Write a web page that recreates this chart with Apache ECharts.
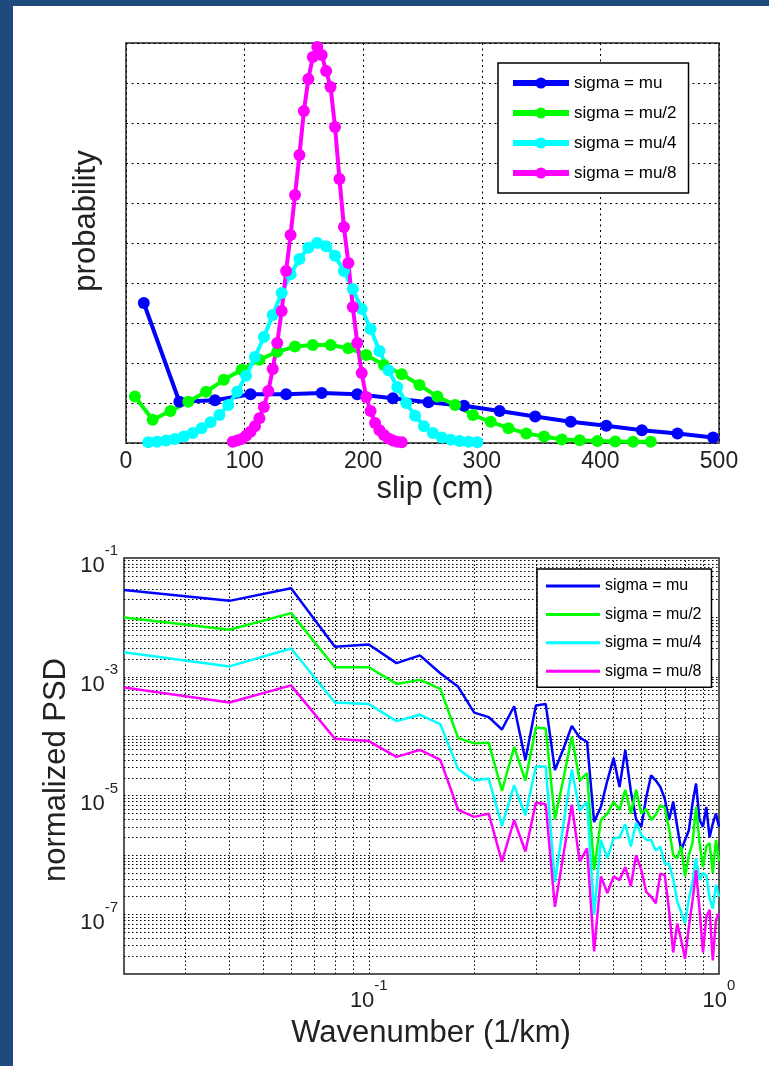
<!DOCTYPE html>
<html>
<head>
<meta charset="utf-8">
<script src="https://cdn.jsdelivr.net/npm/echarts@6/dist/echarts.min.js"></script>
<style>
  html, body { margin: 0; padding: 0; width: 769px; height: 1066px; overflow: hidden; background: #1f4a7c; }
  .panel { position: absolute; left: 13px; top: 6px; width: 756px; height: 1060px; background: #fff; }
  .chart { position: absolute; left: 0; top: 0; width: 769px; height: 1066px; }
</style>
</head>
<body>
<div class="panel"></div>
<div id="chart1" class="chart"></div>
<div id="chart2" class="chart"></div>
<script>
// ---- top panel: slip distributions ----
var slipMu = [15, 45, 75, 105, 135, 165, 195, 225, 255, 285, 315, 345, 375, 405, 435, 465, 495]
var probMu = [3.5, 1.03, 1.07, 1.22, 1.22, 1.25, 1.22, 1.12, 1.02, 0.93, 0.8, 0.66, 0.53, 0.43, 0.32, 0.24, 0.14]

var slipMu2 = [7.5, 22.5, 37.5, 52.5, 67.5, 82.5, 97.5, 112.5, 127.5, 142.5, 157.5, 172.5, 187.5, 202.5, 217.5,
  232.5, 247.5, 262.5, 277.5, 292.5, 307.5, 322.5, 337.5, 352.5, 367.5, 382.5, 397.5, 412.5, 427.5, 442.5]
var probMu2 = [1.16, 0.58, 0.8, 1.03, 1.28, 1.58, 1.83, 2.08, 2.28, 2.41, 2.45, 2.45, 2.37, 2.2, 1.95,
  1.72, 1.45, 1.16, 0.95, 0.7, 0.53, 0.37, 0.24, 0.16, 0.09, 0.07, 0.05, 0.04, 0.03, 0.03]

var slipMu4 = [18.75, 26.25, 33.75, 41.25, 48.75, 56.25, 63.75, 71.25, 78.75, 86.25, 93.75, 101.25, 108.75,
  116.25, 123.75, 131.25, 138.75, 146.25, 153.75, 161.25, 168.75, 176.25, 183.75, 191.25, 198.75, 206.25,
  213.75, 221.25, 228.75, 236.25, 243.75, 251.25, 258.75, 266.25, 273.75, 281.25, 288.75, 296.25]
var probMu4 = [0.02, 0.03, 0.06, 0.1, 0.16, 0.25, 0.37, 0.52, 0.7, 0.95, 1.28, 1.68, 2.15,
  2.65, 3.2, 3.75, 4.22, 4.6, 4.88, 5.0, 4.92, 4.68, 4.3, 3.85, 3.35, 2.85,
  2.3, 1.82, 1.4, 1.0, 0.68, 0.42, 0.25, 0.14, 0.08, 0.05, 0.03, 0.02]

var slipMu8 = [90, 93.75, 97.5, 101.25, 105, 108.75, 112.5, 116.25, 120, 123.75, 127.5, 131.25, 135,
  138.75, 142.5, 146.25, 150, 153.75, 157.5, 161.25, 165, 168.75, 172.5, 176.25, 180, 183.75, 187.5,
  191.25, 195, 198.75, 202.5, 206.25, 210, 213.75, 217.5, 221.25, 225, 228.75, 232.5]
var probMu8 = [0.03, 0.06, 0.1, 0.18, 0.28, 0.42, 0.62, 0.9, 1.3, 1.85, 2.5, 3.3, 4.3,
  5.2, 6.2, 7.2, 8.3, 9.1, 9.65, 9.9, 9.7, 9.3, 8.9, 7.9, 6.6, 5.4, 4.5,
  3.4, 2.5, 1.75, 1.15, 0.8, 0.5, 0.32, 0.2, 0.11, 0.06, 0.03, 0.02]

// ---- bottom panel: spectra ----
var waveNum = [0.02, 0.04, 0.06, 0.08, 0.1, 0.12, 0.14, 0.16, 0.18, 0.2, 0.22, 0.24, 0.26, 0.28, 0.3, 0.32, 0.34,
  0.36, 0.38, 0.4, 0.42, 0.44, 0.46, 0.48, 0.5, 0.52, 0.54, 0.56, 0.58, 0.6, 0.62, 0.64, 0.66, 0.68, 0.7,
  0.72, 0.74, 0.76, 0.78, 0.8, 0.82, 0.84, 0.86, 0.88, 0.9, 0.92, 0.94, 0.96, 0.98, 1.0]
var psdMu = [2.9e-2, 1.9e-2, 3.1e-2, 3.2e-3, 3.5e-3, 1.7e-3, 2.3e-3, 1.15e-3, 6.8e-4, 2.5e-4,
  2.1e-4, 1.3e-4, 3.2e-4, 4.0e-5, 3.3e-4, 3.5e-4, 2.7e-5, 6.3e-5, 1.5e-4, 9.5e-5,
  8.1e-5, 3.6e-6, 6.5e-6, 1.8e-5, 4.3e-5, 1.4e-5, 5.9e-5, 1.2e-5, 4.0e-6, 3.0e-6,
  9.5e-6, 2.2e-5, 1.8e-5, 1.4e-5, 8.9e-6, 3.9e-6, 7.9e-6, 3.0e-6, 1.2e-6, 1.8e-6,
  2.6e-6, 7.4e-6, 1.6e-5, 3.9e-6, 3.0e-6, 6.5e-6, 2.0e-6, 3.4e-6, 5.0e-6, 3.0e-6]
var psdMu2 = [1.0e-2, 6.2e-3, 1.18e-2, 1.45e-3, 1.45e-3, 7.6e-4, 8.9e-4, 6.3e-4, 9.3e-5, 7.6e-5,
  7.8e-5, 1.2e-5, 6.6e-5, 1.8e-5, 1.4e-4, 1.35e-4, 4.0e-6, 2.0e-5, 9.8e-5, 1.8e-5,
  2.4e-5, 5.6e-7, 3.9e-6, 5.0e-6, 7.9e-6, 5.8e-6, 1.26e-5, 5.0e-6, 1.26e-5, 5.0e-6,
  6.0e-6, 3.9e-6, 4.8e-6, 6.9e-6, 6.3e-6, 2.8e-6, 1.0e-6, 8.9e-7, 1.4e-6, 4.4e-7,
  1.0e-6, 1.6e-6, 6.5e-6, 1.6e-6, 6.3e-7, 1.4e-6, 1.6e-6, 5.0e-7, 1.8e-6, 7.9e-7]
var psdMu4 = [2.6e-3, 1.5e-3, 3.0e-3, 3.7e-4, 3.5e-4, 1.8e-4, 2.3e-4, 1.6e-4, 2.8e-5, 1.8e-5,
  1.95e-5, 3.1e-6, 1.5e-5, 4.7e-6, 3.1e-5, 3.1e-5, 3.5e-7, 3.5e-6, 2.75e-5, 5.6e-6,
  7.9e-6, 1.0e-7, 1.8e-6, 8.9e-7, 1.9e-6, 2.0e-6, 3.3e-6, 1.4e-6, 3.5e-6, 2.2e-6,
  1.8e-6, 1.8e-6, 1.2e-6, 1.4e-6, 7.1e-7, 7.2e-7, 4.0e-7, 1.66e-7, 1.1e-7, 7.1e-8,
  1.8e-7, 3.5e-7, 8.9e-7, 3.8e-7, 5.0e-7, 4.6e-7, 1.9e-7, 1.26e-7, 3.2e-7, 2.0e-7]
var psdMu8 = [6.6e-4, 3.7e-4, 7.2e-4, 9.1e-5, 8.3e-5, 4.5e-5, 5.9e-5, 4.0e-5, 5.8e-6, 4.4e-6,
  5.0e-6, 7.8e-7, 3.9e-6, 1.15e-6, 7.6e-6, 7.2e-6, 1.35e-7, 1.07e-6, 7.1e-6, 7.8e-7,
  1.3e-6, 2.4e-8, 4.4e-7, 2.3e-7, 4.4e-7, 3.8e-7, 6.3e-7, 3.0e-7, 1.0e-6, 5.6e-7,
  2.4e-7, 2.0e-7, 1.55e-7, 4.9e-7, 4.6e-7, 1.2e-7, 2.3e-8, 7.1e-8, 3.7e-8, 1.8e-8,
  6.2e-8, 1.7e-7, 5.6e-7, 1.2e-7, 2.3e-8, 9.1e-8, 1.2e-7, 1.7e-8, 8.1e-8, 1.05e-7]

var names = ['sigma = mu', 'sigma = mu/2', 'sigma = mu/4', 'sigma = mu/8']
var colors = ['#0000ff', '#00ff00', '#00ffff', '#ff00ff']
var FONT = "'Liberation Sans', Arial, sans-serif"

function pairs(xs, ys) {
  return xs.map(function (x, i) { return [x, ys[i]] })
}

// dotted matlab style grid lines
var dotted = { color: '#000', type: [2, 3.5], width: 1 }

function showChart1() {
  var xy = [[slipMu, probMu], [slipMu2, probMu2], [slipMu4, probMu4], [slipMu8, probMu8]]
  var option = {
    animation: false,
    textStyle: { fontFamily: FONT },
    grid: { left: 126, top: 43, width: 593, height: 400, show: true, borderColor: '#222', borderWidth: 1.5 },
    xAxis: {
      type: 'value', min: 0, max: 500, interval: 100,
      axisLine: { show: false },
      axisTick: { show: false },
      axisLabel: { fontSize: 23, color: '#222', margin: 7, fontFamily: FONT },
      splitLine: { show: true, lineStyle: dotted }
    },
    yAxis: {
      type: 'value', min: 0, max: 10, interval: 1,
      axisLine: { show: false },
      axisTick: { show: false },
      axisLabel: { show: false },
      splitLine: { show: true, lineStyle: dotted }
    },
    legend: {
      data: names, orient: 'vertical', left: 498, top: 63,
      padding: [11.5, 12, 11.5, 12], itemGap: 13, itemWidth: 56, itemHeight: 14,
      borderColor: '#000', borderWidth: 1.5, backgroundColor: '#fff',
      lineStyle: { width: 6 },
      textStyle: { fontSize: 17, color: '#000', fontFamily: FONT }
    },
    series: xy.map(function (d, i) {
      return {
        name: names[i], type: 'line', data: pairs(d[0], d[1]),
        symbol: 'circle', symbolSize: 12, showAllSymbol: true, z: 3,
        lineStyle: { width: 4, color: colors[i] },
        itemStyle: { color: colors[i] }
      }
    }),
    graphic: [
      { type: 'text', x: 86, y: 221, rotation: Math.PI / 2,
        style: { text: 'probability', font: '31px ' + FONT, fill: '#222', align: 'center', verticalAlign: 'middle' } },
      { type: 'text', x: 435, y: 489,
        style: { text: 'slip (cm)', font: '31px ' + FONT, fill: '#222', align: 'center', verticalAlign: 'middle' } }
    ]
  }
  var myChart = echarts.init(document.getElementById('chart1'))
  myChart.setOption(option)
}

function showChart2() {
  // minor + major log grid positions (axis decoration, not data)
  var yGrid = []
  for (var e = -8; e <= -2; e++) {
    for (var m = 1; m <= 9; m++) {
      if (e === -8 && m === 1) continue
      yGrid.push(Number(m + 'e' + e))
    }
  }
  var xGrid = []
  for (var k = 3; k <= 9; k++) xGrid.push(k / 100)
  for (var j = 1; j <= 9; j++) xGrid.push(j / 10)
  var gridLines = yGrid.map(function (v) { return { yAxis: v } })
    .concat(xGrid.map(function (v) { return { xAxis: v } }))

  var labelRich = {
    b: { fontSize: 22, color: '#222', padding: [16, 0, 0, 0], fontFamily: FONT },
    s: { fontSize: 15, color: '#222', padding: [0, 0, 14, 0], fontFamily: FONT }
  }
  var psd = [psdMu, psdMu2, psdMu4, psdMu8]
  var series = psd.map(function (ys, i) {
    return {
      name: names[i], type: 'line', data: pairs(waveNum, ys),
      symbol: 'none', z: 3,
      lineStyle: { width: 2.5, color: colors[i] },
      itemStyle: { color: colors[i] }
    }
  })
  series.unshift({
    name: 'grid', type: 'line', data: [], z: 1, silent: true,
    markLine: {
      silent: true, symbol: ['none', 'none'], animation: false,
      precision: 14, z: 1,
      label: { show: false },
      lineStyle: { color: '#000', type: [1.5, 2.5], width: 1 },
      emphasis: { disabled: true },
      data: gridLines
    }
  })

  var option = {
    animation: false,
    textStyle: { fontFamily: FONT },
    grid: { left: 124, top: 558, width: 595, height: 416, show: true, borderColor: '#222', borderWidth: 1.5 },
    xAxis: {
      type: 'log', logBase: 10, min: 0.02, max: 1,
      axisLine: { show: false }, axisTick: { show: false },
      splitLine: { show: false },
      axisLabel: {
        margin: 0, rich: labelRich,
        formatter: function (v) {
          var l = Math.log10(v)
          var e = Math.round(l)
          if (Math.abs(l - e) > 1e-6) return ''
          return '{b|10}{s|' + e + '}'
        }
      }
    },
    yAxis: {
      type: 'log', logBase: 10, min: 1e-8, max: 1e-1,
      axisLine: { show: false }, axisTick: { show: false },
      splitLine: { show: false },
      axisLabel: {
        margin: 6, rich: labelRich,
        formatter: function (v) {
          var e = Math.round(Math.log10(v))
          if (e % 2 === 0) return ''
          return '{b|10}{s|' + e + '}'
        }
      }
    },
    legend: {
      data: names.map(function (n) { return { name: n, icon: 'rect' } }),
      orient: 'vertical', left: 537, top: 569,
      padding: [9, 10, 8, 9], itemGap: 12.4, itemWidth: 54, itemHeight: 3,
      borderColor: '#000', borderWidth: 1.5, backgroundColor: '#fff',
      textStyle: { fontSize: 16, color: '#000', fontFamily: FONT }
    },
    series: series,
    graphic: [
      { type: 'text', x: 56, y: 770, rotation: Math.PI / 2,
        style: { text: 'normalized PSD', font: '31px ' + FONT, fill: '#222', align: 'center', verticalAlign: 'middle' } },
      { type: 'text', x: 431, y: 1033,
        style: { text: 'Wavenumber (1/km)', font: '31px ' + FONT, fill: '#222', align: 'center', verticalAlign: 'middle' } }
    ]
  }
  var myChart = echarts.init(document.getElementById('chart2'))
  myChart.setOption(option)
}

showChart1()
showChart2()
</script>
</body>
</html>
